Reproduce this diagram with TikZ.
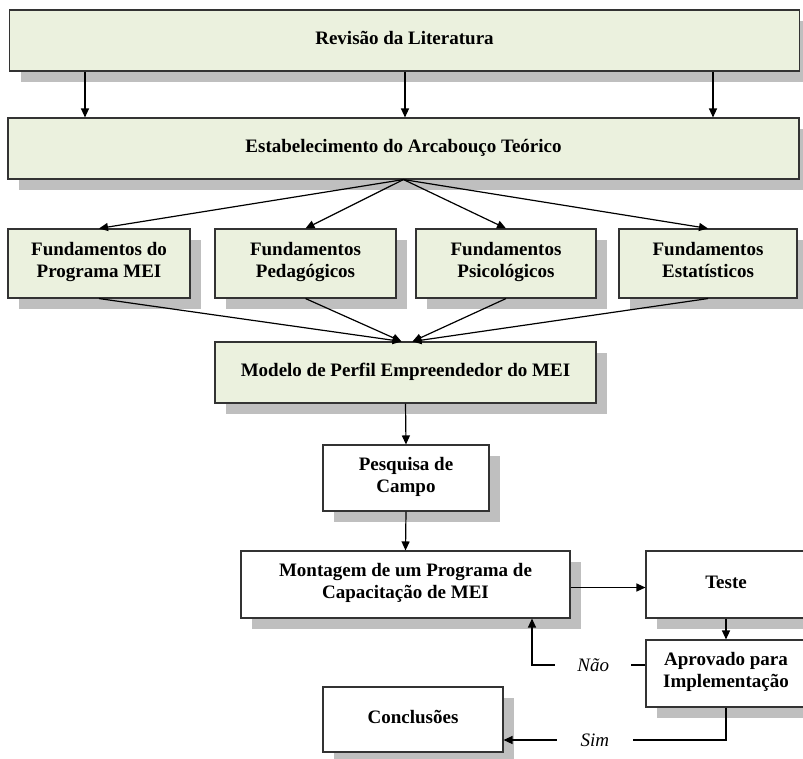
\documentclass[tikz,border=0pt]{standalone}
\usepackage{fontspec}
\setmainfont{Liberation Serif}
\usepackage{xcolor}
\usetikzlibrary{shadows,arrows.meta}
\definecolor{ltgreen}{rgb}{0.92,0.945,0.87}
\definecolor{shgray}{rgb}{0.75,0.75,0.75}
\definecolor{bordgray}{rgb}{0.2,0.2,0.2}

\begin{document}
\begin{tikzpicture}[x=1pt,y=-1pt,
    box/.style={draw=bordgray,line width=1.1pt,fill=white,align=center,inner sep=0pt,
        font=\bfseries\fontsize{19}{22}\selectfont,execute at end node=\strut,
        drop shadow={shadow xshift=11pt,shadow yshift=-11pt,fill=shgray,opacity=1}},
    greenbox/.style={box,fill=ltgreen},
    arr/.style={line width=1.2pt,-{Triangle[length=9pt,width=8pt]}},
    lbl/.style={fill=white,inner sep=0pt,minimum width=76pt,minimum height=14pt,
        font=\itshape\fontsize{19}{22}\selectfont}]
    \useasboundingbox (0,0) rectangle (803,758);
    % top blocks
    \node[greenbox,minimum width=790pt,minimum height=61pt] (rev) at (404.5,40.5) {Revisão da Literatura};
    \node[greenbox,minimum width=791pt,minimum height=61pt] (est) at (403.5,148.5) {Estabelecimento do Arcabouço Teórico};
	\foreach \x in {85,405,713} {
		\draw[arr] (\x,0 |- rev.south) -- (\x,0 |- est.north);
	}
    % foundations
    \node[greenbox,minimum width=182pt,minimum height=69pt] (f1) at (99,263.5) {Fundamentos do\\Programa MEI};
    \node[greenbox,minimum width=181pt,minimum height=69pt] (f2) at (305.5,263.5) {Fundamentos\\Pedagógicos};
    \node[greenbox,minimum width=180pt,minimum height=69pt] (f3) at (506,263.5) {Fundamentos\\Psicológicos};
    \node[greenbox,minimum width=178pt,minimum height=69pt] (f4) at (708,263.5) {Fundamentos\\Estatísticos};
	\foreach \f in {f1,f2,f3,f4} {
		\draw[arr] (est.south) -- (\f.north);
	}
    \node[greenbox,minimum width=381pt,minimum height=61pt] (mod) at (405.5,372.5) {Modelo de Perfil Empreendedor do MEI};
	\foreach \f/\dx in {f1/-4,f2/-4,f3/7,f4/7} {
		\draw[arr] (\f.south) -- ([xshift=\dx pt]mod.north);
	}
    % field work and program
    \node[box,minimum width=166pt,minimum height=66pt] (pes) at (406,478) {Pesquisa de\\Campo};
    \node[box,minimum width=329pt,minimum height=67pt] (mon) at (405.5,584.5) {Montagem de um Programa de\\Capacitação de MEI};
    \node[box,minimum width=160pt,minimum height=67pt] (tes) at (726,584.5) {Teste};
    \node[box,minimum width=160pt,minimum height=67pt] (apr) at (726,673.5) {Aprovado para\\Implementação};
    \node[box,minimum width=180pt,minimum height=65pt] (con) at (413,719.5) {Conclusões};
    \draw[arr] (mod.south) -- (pes.north);
    \draw[arr] (pes.south) -- (mon.north);
    \draw[arr] ([yshift=-3pt]mon.east) -- ([yshift=-3pt]tes.west);
    \draw[arr] (tes.south) -- (apr.north);
    % decision
    \draw[arr] (apr.west |- 0,665) -- node[lbl,pos=0.46] {Não} (532,665) -- (532,0 |- mon.south);
    \draw[arr] (apr.south) -- (apr.south |- 0,740) -- node[lbl,pos=0.59] {Sim} (con.east |- 0,740);
\end{tikzpicture}
\end{document}
